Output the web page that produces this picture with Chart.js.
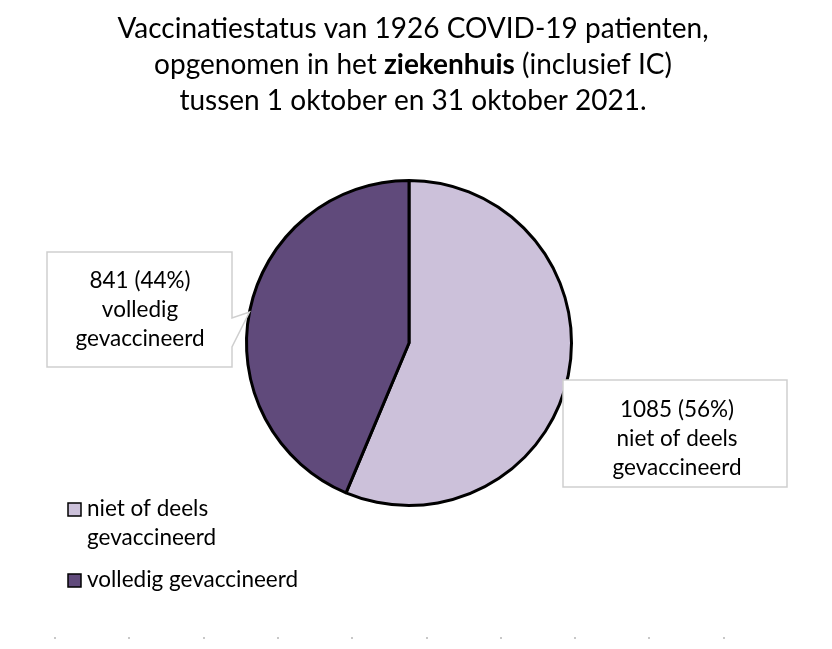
<!DOCTYPE html>
<html>
<head>
<meta charset="utf-8">
<script src="https://cdn.jsdelivr.net/npm/chart.js@4.4.0/dist/chart.umd.min.js"></script>
<style>
  html, body { margin: 0; padding: 0; background: #fff; }
  #wrap { width: 832px; height: 649px; }
</style>
</head>
<body>
<div id="wrap"><canvas id="pie" width="832" height="649"></canvas></div>
<script>
// data
const categories = ['niet of deels gevaccineerd', 'volledig gevaccineerd'];
const counts = [1085, 841];
const legendLines = [['niet of deels', 'gevaccineerd'], ['volledig gevaccineerd']];
const calloutLines = [['niet of deels', 'gevaccineerd'], ['volledig', 'gevaccineerd']];
const colors = ['#ccc1da', '#604a7b'];

const FONT = 'Lato, "Noto Sans", sans-serif';
const total = counts.reduce((a, b) => a + b, 0);

// title with one bold word, drawn by hand
const titlePlugin = {
	id: 'titleMixed',
	afterDraw(chart) {
		const ctx = chart.ctx;
		const lines = [
			[['Vaccinatiestatus van ' + total + ' COVID-19 patienten,', false]],
			[['opgenomen in het ', false], ['ziekenhuis', true], [' (inclusief IC)', false]],
			[['tussen 1 oktober en 31 oktober 2021.', false]]
		];
		const ys = [29, 65, 101];
		ctx.save();
		ctx.fillStyle = '#000';
		ctx.textBaseline = 'middle';
		lines.forEach((parts, i) => {
			let w = 0;
			parts.forEach(p => {
				ctx.font = (p[1] ? 'bold ' : '') + '28px ' + FONT;
				w += ctx.measureText(p[0]).width;
			});
			let x = 413 - w / 2;
			parts.forEach(p => {
				ctx.font = (p[1] ? 'bold ' : '') + '28px ' + FONT;
				ctx.textAlign = 'left';
				ctx.fillText(p[0], x, ys[i]);
				x += ctx.measureText(p[0]).width;
			});
		});
		ctx.restore();
	}
};

// callout boxes + legend
const extrasPlugin = {
	id: 'extras',
	afterDraw(chart) {
		const ctx = chart.ctx;
		const arc = chart.getDatasetMeta(0).data[0];
		const cx = arc.x, cy = arc.y, r = arc.outerRadius;
		ctx.save();

		// left callout (volledig)
		const tipL = [cx + r * Math.cos(Math.PI * 1.061), cy + r * Math.sin(Math.PI * 1.061)];
		ctx.strokeStyle = '#cfcfcf';
		ctx.lineWidth = 1.5;
		ctx.beginPath();
		ctx.moveTo(47, 252);
		ctx.lineTo(232, 252);
		ctx.lineTo(232, 318);
		ctx.lineTo(tipL[0], tipL[1]);
		ctx.lineTo(232, 347);
		ctx.lineTo(232, 367);
		ctx.lineTo(47, 367);
		ctx.closePath();
		ctx.fillStyle = '#fff';
		ctx.fill();
		ctx.stroke();

		// right callout (niet of deels)
		ctx.beginPath();
		ctx.rect(563, 380, 224, 107);
		ctx.fill();
		ctx.stroke();

		ctx.fillStyle = '#000';
		ctx.textAlign = 'center';
		ctx.textBaseline = 'middle';
		ctx.font = '22.5px ' + FONT;
		const pct = counts.map(v => Math.round(v / total * 100));
		const boxes = [
			{ x: 677, y: 410, i: 0 },
			{ x: 140, y: 281, i: 1 }
		];
		boxes.forEach(b => {
			const lines = [counts[b.i] + ' (' + pct[b.i] + '%)'].concat(calloutLines[b.i]);
			lines.forEach((t, k) => ctx.fillText(t, b.x, b.y + k * 29));
		});

		// legend
		ctx.textAlign = 'left';
		let y = 509;
		legendLines.forEach((lines, i) => {
			ctx.fillStyle = colors[i];
			ctx.fillRect(68, y - 6, 13, 13);
			ctx.strokeStyle = '#000';
			ctx.lineWidth = 1.5;
			ctx.strokeRect(68, y - 6, 13, 13);
			ctx.fillStyle = '#000';
			lines.forEach((t, k) => ctx.fillText(t, 87, y + k * 29));
			y += lines.length * 29 + 13;
		});

		// faint dotted baseline
		ctx.fillStyle = '#c8c8c8';
		for (let x = 54; x < 760; x += 74.3) ctx.fillRect(Math.round(x), 637, 2, 2);

		ctx.restore();
	}
};

const ctxPie = document.getElementById('pie').getContext('2d');
const myPie = new Chart(ctxPie, {
	type: 'pie',
	data: {
		labels: categories,
		datasets: [{
			data: counts,
			backgroundColor: colors,
			borderColor: '#000',
			borderWidth: 3
		}]
	},
	options: {
		responsive: false,
		animation: false,
		layout: { padding: { top: 179, bottom: 142, left: 0, right: 14 } },
		plugins: {
			legend: { display: false },
			title: { display: false },
			tooltip: { enabled: false }
		}
	},
	plugins: [titlePlugin, extrasPlugin]
});
</script>
</body>
</html>
